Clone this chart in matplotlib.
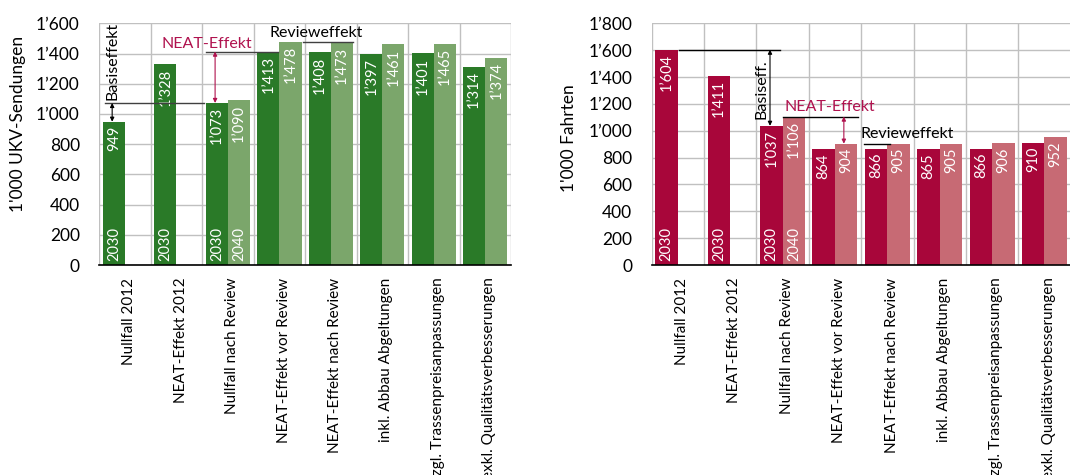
import numpy as np
import matplotlib.pyplot as plt

plt.rcParams['font.family'] = ['Lato', 'DejaVu Sans']

kategorien = ['Nullfall 2012', 'NEAT-Effekt 2012', 'Nullfall nach Review',
              'NEAT-Effekt vor Review', 'NEAT-Effekt nach Review',
              'inkl. Abbau Abgeltungen', 'zzgl. Trassenpreisanpassungen',
              'exkl. Qualitätsverbesserungen']

# 1'000 UKV-Sendungen
ukv_2030 = [949, 1328, 1073, 1413, 1408, 1397, 1401, 1314]
ukv_2040 = [None, None, 1090, 1478, 1473, 1461, 1465, 1374]

# 1'000 Fahrten
fahrten_2030 = [1604, 1411, 1037, 864, 866, 865, 866, 910]
fahrten_2040 = [None, None, 1106, 904, 905, 905, 906, 952]

jahr_labels_2030 = ['2030', '2030', '2030', '', '', '', '', '']
jahr_labels_2040 = ['', '', '2040', '', '', '', '', '']

gruen_dk, gruen_hl = '#2A7A28', '#7BA66B'
rot_dk, rot_hl = '#A8063A', '#C76A74'
neat_farbe = '#B0124E'


def fmt(v):
    return f'{v:,}'.replace(',', '\u2019')


def panel(ax, v30, v40, c30, c40, ymax, ylabel, ylab_y):
    x = np.arange(len(kategorien))
    w = 0.43
    ax.set_axisbelow(True)
    for i in x:
        ax.bar(i - w / 2, v30[i], w, color=c30, zorder=2)
        ax.annotate(fmt(v30[i]), (i - w / 2, v30[i]), xytext=(0, -3),
                    textcoords='offset points', rotation=90, ha='center',
                    va='top', color='white', fontsize=10.5)
        if jahr_labels_2030[i]:
            ax.annotate(jahr_labels_2030[i], (i - w / 2, 0), xytext=(0, 3),
                        textcoords='offset points', rotation=90, ha='center',
                        va='bottom', color='white', fontsize=10.5)
        if v40[i] is not None:
            ax.bar(i + w / 2, v40[i], w, color=c40, zorder=2)
            ax.annotate(fmt(v40[i]), (i + w / 2, v40[i]), xytext=(0, -3),
                        textcoords='offset points', rotation=90, ha='center',
                        va='top', color='white', fontsize=10.5)
        if jahr_labels_2040[i]:
            ax.annotate(jahr_labels_2040[i], (i + w / 2, 0), xytext=(0, 3),
                        textcoords='offset points', rotation=90, ha='center',
                        va='bottom', color='white', fontsize=10.5)

    ax.set_xlim(-0.5, len(kategorien) - 0.5)
    ax.set_ylim(0, ymax)
    ax.set_yticks(np.arange(0, ymax + 1, 200))
    ax.set_yticklabels([fmt(t) for t in range(0, ymax + 1, 200)], fontsize=12.5)
    ax.set_xticks(x + 0.08)
    ax.set_xticklabels(kategorien, rotation=90, fontsize=11, va='top')
    ax.set_xticks(np.arange(-0.5, len(kategorien), 1), minor=True)
    ax.tick_params(axis='both', which='both', length=0)
    ax.tick_params(axis='y', pad=14)
    ax.tick_params(axis='x', pad=9)
    ax.grid(True, which='major', axis='y', color='#C0C0C0', lw=1)
    ax.grid(True, which='minor', axis='x', color='#C0C0C0', lw=1)
    for s in ['top', 'left', 'right']:
        ax.spines[s].set_visible(False)
    ax.spines['bottom'].set_color('black')
    ax.spines['bottom'].set_linewidth(1.2)
    ax.set_ylabel(ylabel, fontsize=12.5)
    ax.yaxis.set_label_coords(-0.177, ylab_y)


def pfeil(ax, x, y1, y2, farbe):
    ax.annotate('', xy=(x, y1), xytext=(x, y2),
                arrowprops=dict(arrowstyle='<|-|>', color=farbe, lw=0.8,
                                shrinkA=0, shrinkB=0, mutation_scale=6))


fig = plt.figure(figsize=(10.7, 4.75), dpi=100)
ax1 = fig.add_axes([0.0928, 0.442, 0.3848, 0.5088])
ax2 = fig.add_axes([0.609, 0.442, 0.3916, 0.5088])

panel(ax1, ukv_2030, ukv_2040, gruen_dk, gruen_hl, 1600,
      "1'000 UKV-Sendungen", 0.583)
panel(ax2, fahrten_2030, fahrten_2040, rot_dk, rot_hl, 1800,
      "1'000 Fahrten", 0.525)

# Annotationen links
ax1.plot([-0.39, 1.53], [ukv_2030[2], ukv_2030[2]], color='#404040', lw=1, zorder=3)
pfeil(ax1, -0.25, ukv_2030[0], ukv_2030[2], 'black')
ax1.text(-0.25, 1095, 'Basiseffekt', rotation=90, ha='center', va='bottom',
         fontsize=11.5, zorder=4)
ax1.plot([1.58, 2.97], [ukv_2030[3], ukv_2030[3]], color='#404040', lw=1, zorder=3)
pfeil(ax1, 1.75, ukv_2030[3], ukv_2030[2], neat_farbe)
ax1.text(1.59, 1463, 'NEAT-Effekt', ha='center', va='center', fontsize=11.5,
         color=neat_farbe, zorder=4)
ax1.plot([3.45, 4.43], [ukv_2040[3], ukv_2040[3]], color='#404040', lw=1, zorder=3)
ax1.text(3.72, 1536, 'Revieweffekt', ha='center', va='center', fontsize=11.5,
         zorder=4)

# Annotationen rechts
ax2.plot([0.03, 1.96], [fahrten_2030[0], fahrten_2030[0]], color='black', lw=1, zorder=3)
pfeil(ax2, 1.76, fahrten_2030[0], fahrten_2030[2], 'black')
ax2.text(1.6, 1309, 'Basiseff.', rotation=90, ha='center', va='center',
         fontsize=11.5, zorder=4)
ax2.plot([2.01, 3.44], [fahrten_2040[2], fahrten_2040[2]], color='black', lw=1, zorder=3)
pfeil(ax2, 3.17, fahrten_2040[2], fahrten_2040[3], neat_farbe)
ax2.text(2.9, 1176, 'NEAT-Effekt', ha='center', va='center', fontsize=11.5,
         color=neat_farbe, zorder=4)
ax2.plot([3.55, 4.05], [fahrten_2040[3], fahrten_2040[3]], color='black', lw=1, zorder=3)
ax2.text(4.38, 975, 'Revieweffekt', ha='center', va='center', fontsize=11.5,
         zorder=4)

fig.savefig('out.png', dpi=100)
